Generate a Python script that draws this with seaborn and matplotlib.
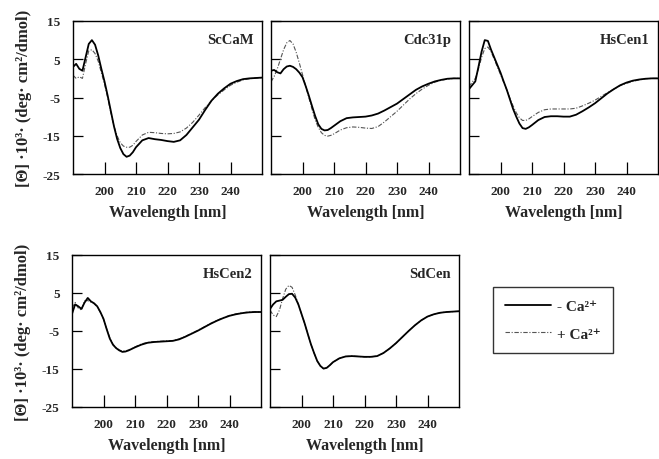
import matplotlib
matplotlib.use("Agg")
import matplotlib.pyplot as plt
import seaborn as sns
import pandas as pd
from matplotlib.lines import Line2D

# wavelength grid (nm), shared by every spectrum
wavelength = [190, 191, 192, 193, 194, 195, 196, 197, 198, 199, 200, 201, 202, 203,
              204, 205, 206, 207, 208, 209, 210, 212, 214, 216, 218, 220, 222, 224,
              226, 228, 230, 232, 234, 236, 238, 240, 242, 244, 246, 248, 250]

# -Ca2+ (solid) and +Ca2+ (dash-dot) spectra, [Theta]*1e-3
sccam_apo = [3.0, 3.8, 2.5, 2.0, 5.5, 9.0, 10.0, 8.8, 6.0, 2.5, -0.8, -4.5, -8.5, -12.5,
             -15.8, -18.2, -19.8, -20.5, -20.2, -19.3, -18.0, -16.2, -15.6, -15.9, -16.1, -16.4, -16.6, -16.2,
             -14.8, -12.8, -10.8, -8.2, -5.8, -4.0, -2.6, -1.4, -0.7, -0.2, 0.0, 0.1, 0.2]
sccam_ca = [0.8, 0.0, 0.4, 0.0, 3.8, 7.2, 7.5, 6.5, 4.5, 1.5, -1.5, -5.0, -9.0, -12.5,
            -15.0, -16.8, -17.7, -18.0, -18.0, -17.5, -16.5, -14.8, -14.1, -14.2, -14.4, -14.5, -14.4, -14.0,
            -13.0, -11.5, -9.6, -7.6, -5.8, -4.3, -3.0, -1.8, -1.0, -0.4, -0.1, 0.1, 0.2]

cdc31_apo = [2.0, 2.2, 1.6, 1.3, 2.4, 3.1, 3.3, 3.0, 2.4, 1.5, 0.3, -2.0, -4.5, -7.2,
             -9.8, -12.0, -13.2, -13.6, -13.5, -13.0, -12.4, -11.2, -10.4, -10.2, -10.1, -10.0, -9.7, -9.2,
             -8.4, -7.5, -6.6, -5.4, -4.2, -3.0, -2.1, -1.4, -0.8, -0.4, -0.1, 0.0, 0.0]
cdc31_ca = [-0.9, 0.5, 2.5, 5.0, 7.5, 9.3, 9.9, 9.0, 6.8, 4.0, 1.0, -2.0, -5.0, -8.0,
            -10.8, -12.8, -14.2, -14.9, -15.1, -14.9, -14.5, -13.5, -12.9, -12.7, -12.8, -13.0, -13.1, -12.6,
            -11.4, -10.0, -8.6, -7.0, -5.4, -4.0, -2.8, -1.8, -1.0, -0.5, -0.2, 0.0, 0.0]

hscen1_apo = [-2.8, -1.8, -0.8, 3.0, 7.0, 10.0, 9.8, 7.5, 5.5, 3.5, 1.5, -0.8, -3.0, -5.5,
              -8.0, -10.0, -11.8, -13.0, -13.2, -12.8, -12.2, -10.9, -10.1, -9.9, -9.9, -10.0, -10.0, -9.5,
              -8.6, -7.6, -6.5, -5.2, -3.9, -2.8, -1.8, -1.1, -0.6, -0.3, -0.1, 0.0, 0.0]
hscen1_ca = [-2.2, -1.0, 0.0, 2.5, 5.5, 7.8, 8.2, 7.0, 5.0, 3.0, 1.0, -1.0, -3.0, -5.2,
             -7.2, -9.0, -10.3, -11.0, -11.0, -10.6, -10.0, -8.9, -8.2, -8.0, -8.0, -8.0, -8.0, -7.8,
             -7.2, -6.5, -5.7, -4.7, -3.7, -2.8, -1.9, -1.3, -0.8, -0.4, -0.1, 0.0, 0.0]

hscen2_apo = [-0.5, 2.0, 1.5, 0.8, 2.5, 3.7, 2.8, 2.3, 1.5, 0.0, -1.8, -4.5, -7.0, -8.6,
              -9.5, -10.1, -10.5, -10.4, -10.1, -9.7, -9.3, -8.6, -8.1, -7.9, -7.8, -7.7, -7.6, -7.2,
              -6.5, -5.7, -4.9, -4.0, -3.1, -2.3, -1.6, -1.0, -0.6, -0.3, -0.1, 0.0, 0.0]
hscen2_ca = [1.0, 2.5, 1.0, 0.5, 3.0, 3.0, 2.6, 2.2, 1.4, -0.1, -1.9, -4.4, -6.8, -8.5,
             -9.4, -10.0, -10.3, -10.2, -10.0, -9.6, -9.2, -8.4, -8.0, -7.8, -7.7, -7.6, -7.5, -7.1,
             -6.4, -5.6, -4.8, -3.9, -3.0, -2.2, -1.5, -0.9, -0.5, -0.2, 0.0, 0.0, 0.0]

sdcen_apo = [0.8, 2.0, 2.8, 3.0, 3.2, 4.0, 4.7, 4.8, 3.8, 2.0, -0.5, -3.0, -5.8, -8.5,
             -10.8, -12.9, -14.2, -14.9, -14.7, -14.0, -13.2, -12.2, -11.7, -11.6, -11.7, -11.8, -11.8, -11.6,
             -10.8, -9.6, -8.2, -6.6, -5.0, -3.5, -2.2, -1.2, -0.6, -0.2, 0.0, 0.1, 0.2]
sdcen_ca = [0.5, -0.8, -1.2, 0.5, 3.5, 6.0, 7.0, 6.5, 4.5, 2.0, -0.5, -3.0, -5.8, -8.5,
            -10.8, -12.9, -14.2, -14.9, -14.7, -14.0, -13.2, -12.2, -11.7, -11.6, -11.7, -11.8, -11.8, -11.6,
            -10.8, -9.6, -8.2, -6.6, -5.0, -3.5, -2.2, -1.2, -0.6, -0.2, 0.0, 0.1, 0.2]

panel_names = ["ScCaM", "Cdc31p", "HsCen1", "HsCen2", "SdCen"]
apo_series = [sccam_apo, cdc31_apo, hscen1_apo, hscen2_apo, sdcen_apo]
ca_series = [sccam_ca, cdc31_ca, hscen1_ca, hscen2_ca, sdcen_ca]

x_ticks = [200, 210, 220, 230, 240]
y_ticks = [-25, -15, -5, 5, 15]
legend_labels = ["- Ca²⁺", "+ Ca²⁺"]
y_label = "[Θ] ·10³· (deg· cm²/dmol)"

sns.set_theme(style="ticks")
plt.rcParams["font.family"] = ["Liberation Serif", "DejaVu Serif"]
plt.rcParams["font.weight"] = "bold"
plt.rcParams["axes.unicode_minus"] = False

W, H = 659, 460
fig = plt.figure(figsize=(W / 100, H / 100), dpi=100)

# panel boxes in pixels: (left, top, right, bottom)
boxes = [(73, 22, 262, 175), (271, 22, 460, 175), (469, 22, 658, 175),
         (72, 256, 261, 408), (270, 256, 459, 408)]

solid_kw = dict(color="black", linewidth=1.3, linestyle="-")
dash_kw = dict(color="#555555", linewidth=0.8, linestyle=(0, (4, 1.5, 1, 1.5)))

for i, (name, apo, ca) in enumerate(zip(panel_names, apo_series, ca_series)):
    l, t, r, b = boxes[i]
    ax = fig.add_axes([l / W, 1 - b / H, (r - l) / W, (b - t) / H])
    df = pd.DataFrame({"wl": wavelength, "apo": apo, "ca": ca})
    sns.lineplot(data=df, x="wl", y="ca", ax=ax, **dash_kw)
    sns.lineplot(data=df, x="wl", y="apo", ax=ax, **solid_kw)
    ax.set_xlim(190, 250)
    ax.set_ylim(-25, 15)
    ax.set_xticks(x_ticks)
    ax.set_yticks(y_ticks)
    ax.tick_params(axis="x", direction="in", length=9, width=0.9, pad=8,
                   labelsize=9.5, color="black")
    ax.tick_params(axis="y", direction="in", length=7.5, width=0.9, pad=9,
                   labelsize=9.5, color="black")
    for s in ax.spines.values():
        s.set_linewidth(1.0)
        s.set_color("black")
    ax.set_xlabel("Wavelength [nm]", fontsize=11.5, fontweight="bold", labelpad=5)
    if i in (0, 3):
        ax.set_ylabel(y_label, fontsize=12, fontweight="bold", labelpad=8)
    else:
        ax.set_ylabel("")
        ax.tick_params(axis="y", labelleft=False)
    ax.text(0.955, 0.88, name, transform=ax.transAxes, ha="right", va="center",
            fontsize=10.5, fontweight="bold")

handles = [Line2D([], [], **solid_kw), Line2D([], [], **dash_kw)]
leg = fig.legend(handles, legend_labels, loc="center",
                 bbox_to_anchor=(553 / W, 1 - 321 / H), frameon=True,
                 fancybox=False, edgecolor="black", fontsize=11,
                 handlelength=3.0, handletextpad=0.4, borderpad=0.8,
                 borderaxespad=0, labelspacing=0.9)
leg.get_frame().set_linewidth(1.0)
leg.get_frame().set_facecolor("white")

fig.savefig("out.png", dpi=100)
